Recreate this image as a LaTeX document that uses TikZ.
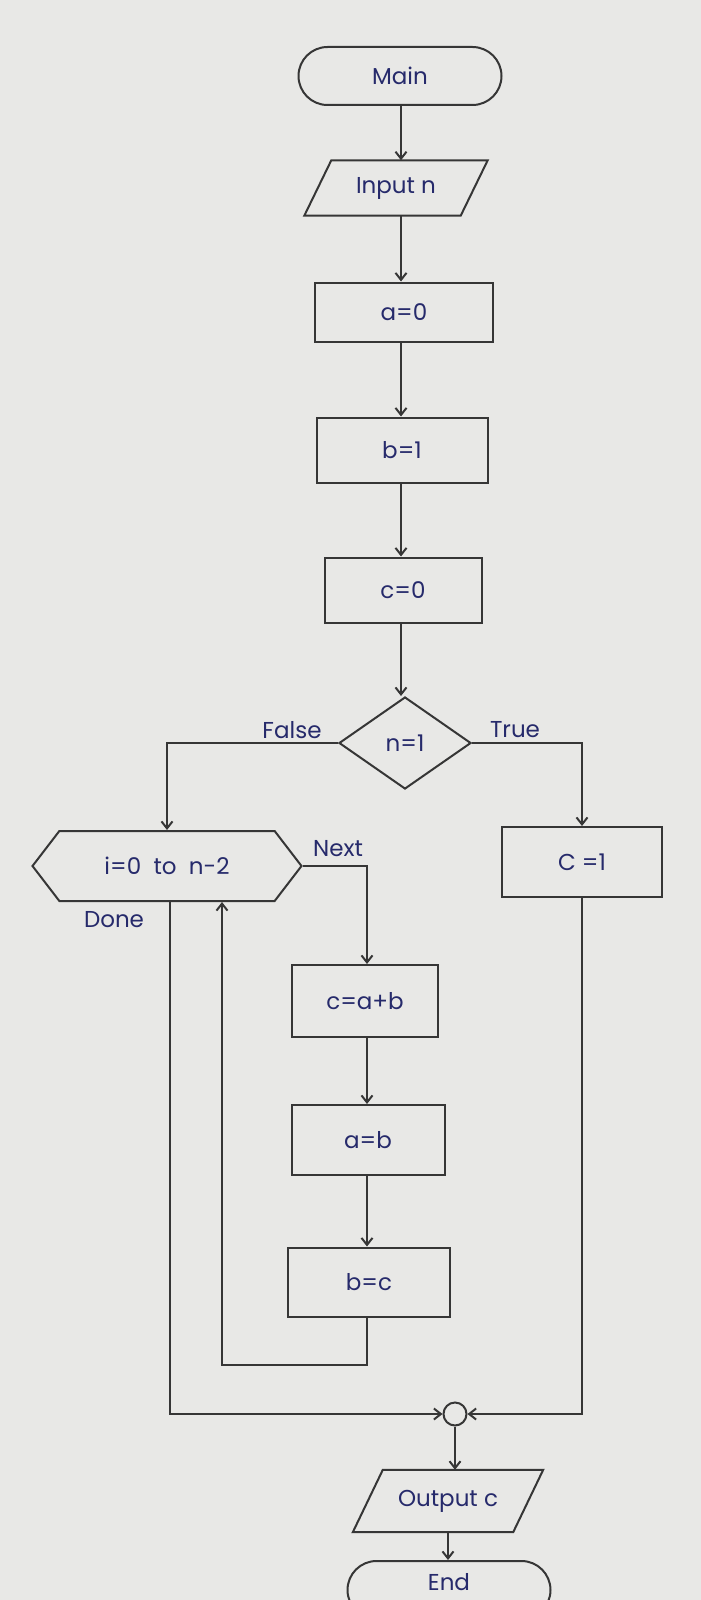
\documentclass[tikz,border=0pt]{standalone}
\usepackage{fontspec}
\setmainfont{Poppins}
\usetikzlibrary{shapes.geometric,shapes.misc,shapes.symbols,arrows.meta}
\definecolor{paper}{HTML}{E8E8E6}
\definecolor{pencil}{HTML}{363636}
\definecolor{ink}{HTML}{262A6B}
\begin{document}
\begin{tikzpicture}[x=1pt,y=-1pt,
  line/.style={draw=pencil, line width=2pt},
  arr/.style={line, -{Straight Barb[length=7pt,width=11pt]}},
  txt/.style={text=ink, font=\fontsize{23}{26}\selectfont},
  shp/.style={txt, draw=pencil, line width=2pt, inner sep=0pt},
  procbox/.style={shp, rectangle},
  term/.style={shp, rounded rectangle},
  iotext/.style={txt, rectangle, inner sep=0pt},
  dec/.style={shp, diamond},
  loopbox/.style={shp, signal, signal to=west and east, signal pointer angle=105},
  lbl/.style={txt}
]
\useasboundingbox (0,0) rectangle (701,1600);
\clip (0,0) rectangle (701,1600);
\fill[paper] (0,0) rectangle (701,1600);

% column coordinates
\coordinate (colA) at (401,0);
\coordinate (colB) at (367,0);

% nodes
\node[term, minimum width=203, minimum height=58] (main) at (400,76) {Main};
\node[iotext, minimum width=156, minimum height=55] (inp) at (396,188) {Input n};
\draw[line] ([xshift=13.5pt]inp.north west) -- ([xshift=13.5pt]inp.north east)
  -- ([xshift=-13.5pt]inp.south east) -- ([xshift=-13.5pt]inp.south west) -- cycle;
\node[procbox, minimum width=178, minimum height=59] (a0) at (404,312) {a=0};
\node[procbox, minimum width=171, minimum height=65] (b1) at (402,450) {b=1};
\node[procbox, minimum width=157, minimum height=65] (c0) at (403,590) {c=0};
\node[dec, minimum width=132, minimum height=92] (dec) at (405,743) {n=1};
\node[loopbox, minimum width=269, minimum height=70] (hex) at (167,866) {i=0\ \ to\ \ n-2};
\node[procbox, minimum width=160, minimum height=70] (c1) at (582,862) {C =1};
\node[procbox, minimum width=146, minimum height=72] (cab) at (365,1001) {c=a+b};
\node[procbox, minimum width=153, minimum height=70] (ab) at (368,1140) {a=b};
\node[procbox, minimum width=162, minimum height=69] (bc) at (369,1282) {b=c};
\node[circle, draw=pencil, line width=2pt, minimum size=23, inner sep=0pt] (join) at (455,1414) {};
\node[iotext, minimum width=160, minimum height=62] (out) at (448,1501) {Output c};
\draw[line] ([xshift=15pt]out.north west) -- ([xshift=15pt]out.north east)
  -- ([xshift=-15pt]out.south east) -- ([xshift=-15pt]out.south west) -- cycle;
\node[term, minimum width=203, minimum height=58] (end) at (449,1590) {};
\node[txt] (endtxt) at (449,1582) {End};

% labels
\node[lbl] (lF) at (292,730) {False};
\node[lbl] (lT) at (515,730) {True};
\node[lbl] (lN) at (338,849) {Next};
\node[lbl] (lD) at (114,920) {Done};

% helper coordinates
\coordinate (loopx) at (222,1365);
\coordinate (donex) at (170,1414);

% connectors
\draw[arr] (colA |- main.south) -- (colA |- inp.north);
\draw[arr] (colA |- inp.south) -- (colA |- a0.north);
\draw[arr] (colA |- a0.south) -- (colA |- b1.north);
\draw[arr] (colA |- b1.south) -- (colA |- c0.north);
\draw[arr] (colA |- c0.south) -- (colA |- dec.north);
\draw[arr] (dec.west) -| (hex.north);
\draw[arr] (dec.east) -| (c1.north);
\draw[arr] (hex.east) -| (colB |- cab.north);
\draw[arr] (colB |- cab.south) -- (colB |- ab.north);
\draw[arr] (colB |- ab.south) -- (colB |- bc.north);
\draw[arr] (colB |- bc.south) |- (loopx) -- (loopx |- hex.south);
\draw[arr] (donex |- hex.south) -- (donex) -- (join.west);
\draw[arr] (c1.south) |- (join.east);
\draw[arr] (join.south) -- (join.south |- out.north);
\draw[arr] (out.south) -- (out.south |- end.north);
\end{tikzpicture}
\end{document}
